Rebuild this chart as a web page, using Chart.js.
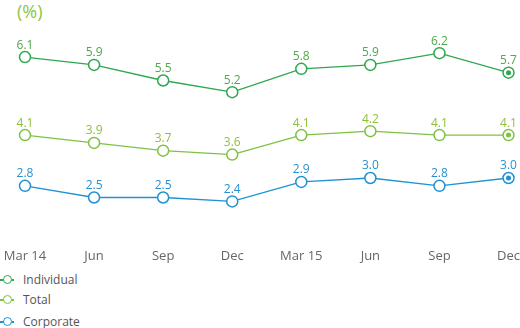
<!DOCTYPE html>
<html>
<head>
<meta charset="utf-8">
<script src="https://cdn.jsdelivr.net/npm/chart.js@4.4.1/dist/chart.umd.min.js"></script>
<style>
    body { margin: 0; background: #fff; }
    #wrap { position: relative; width: 520px; height: 328px; overflow: hidden; font-family: "Open Sans", sans-serif; }
    #unit { position: absolute; left: 17px; top: -1px; font-size: 18px; color: #8cc63f; }
    canvas { position: absolute; left: 0; top: 0; }
    #legend { position: absolute; left: 0; top: 270px; }
    .item { position: relative; height: 20px; font-size: 12px; color: #555; }
    .item:last-child { margin-top: 2px; }
    .item .ln { position: absolute; left: 0; top: 9px; width: 14px; height: 1.5px; }
    .item .dot { position: absolute; left: 2.5px; top: 4.5px; width: 7px; height: 7px; border-radius: 50%; background: #fff; border: 1.5px solid; }
    .item span.txt { position: absolute; left: 23px; top: 1px; }
</style>
</head>
<body>
<div id="wrap">
    <div id="unit">(%)</div>
    <canvas id="rateChart" width="520" height="268"></canvas>
    <div id="legend"></div>
</div>
<script>
const quarters = ['Mar 14', 'Jun', 'Sep', 'Dec', 'Mar 15', 'Jun', 'Sep', 'Dec'];
const individual = [6.1, 5.9, 5.5, 5.2, 5.8, 5.9, 6.2, 5.7];
const total = [4.1, 3.9, 3.7, 3.6, 4.1, 4.2, 4.1, 4.1];
const corporate = [2.8, 2.5, 2.5, 2.4, 2.9, 3.0, 2.8, 3.0];

const series = [
    { label: 'Individual', data: individual, color: '#2ea84f', text: '#4fa84a' },
    { label: 'Total', data: total, color: '#7dc242', text: '#8fbf3c' },
    { label: 'Corporate', data: corporate, color: '#1f93d2', text: '#2a90d0' }
];

// value labels above points + filled dot on the latest point
const pointExtras = {
    id: 'pointExtras',
    afterDatasetsDraw(chart) {
        const ctx = chart.ctx;
        ctx.save();
        ctx.font = '12px "Open Sans", sans-serif';
        ctx.textAlign = 'center';
        ctx.textBaseline = 'bottom';
        chart.data.datasets.forEach((ds, i) => {
            const meta = chart.getDatasetMeta(i);
            meta.data.forEach((pt, j) => {
                ctx.fillStyle = ds.textColor;
                ctx.fillText(ds.data[j].toFixed(1), pt.x, pt.y - 6);
            });
            const last = meta.data[meta.data.length - 1];
            ctx.beginPath();
            ctx.arc(last.x, last.y, 2.5, 0, Math.PI * 2);
            ctx.fillStyle = ds.borderColor;
            ctx.fill();
        });
        ctx.restore();
    }
};

const ctx = document.getElementById('rateChart').getContext('2d');
new Chart(ctx, {
    type: 'line',
    data: {
        labels: quarters,
        datasets: series.map(s => ({
            label: s.label,
            data: s.data,
            borderColor: s.color,
            backgroundColor: '#fff',
            textColor: s.text,
            borderWidth: 1.3,
            tension: 0,
            pointRadius: 5.5,
            pointBorderWidth: 1.5,
            pointBackgroundColor: '#fff',
            pointBorderColor: s.color
        }))
    },
    options: {
        responsive: false,
        animation: false,
        layout: { padding: { left: 25, right: 11, top: 22, bottom: 4 } },
        plugins: {
            legend: { display: false },
            tooltip: { enabled: false }
        },
        scales: {
            x: {
                offset: false,
                grid: { display: false },
                border: { display: false },
                ticks: {
                    color: '#666',
                    padding: 0,
                    maxRotation: 0,
                    autoSkip: false,
                    font: { family: '"Open Sans", sans-serif', size: 13 }
                }
            },
            y: {
                display: false,
                min: 1.4,
                max: 7
            }
        }
    },
    plugins: [pointExtras]
});

const legend = document.getElementById('legend');
series.forEach(s => {
    const div = document.createElement('div');
    div.className = 'item';
    div.innerHTML = `<span class="ln" style="background:${s.color}"></span>
        <span class="dot" style="border-color:${s.color}"></span>
        <span class="txt">${s.label}</span>`;
    legend.appendChild(div);
});
</script>
</body>
</html>
